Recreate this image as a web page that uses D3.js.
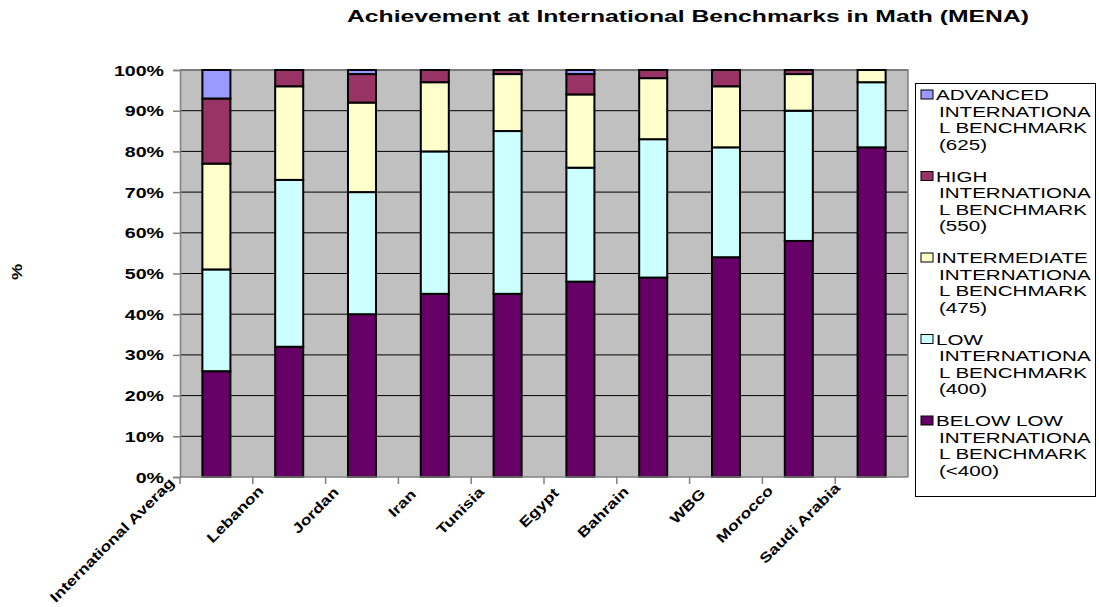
<!DOCTYPE html>
<html><head><meta charset="utf-8">
<script src="https://cdn.jsdelivr.net/npm/d3@7"></script>
<style>body{margin:0;background:#fff}svg{display:block}text{font-family:"Liberation Sans",Arial,sans-serif}</style>
</head><body><svg id="c" width="1099" height="607"></svg>
<script>
const categories = ["International Averag","Lebanon","Jordan","Iran","Tunisia","Egypt","Bahrain","WBG","Morocco","Saudi Arabia"];
const belowLow     = [26,32,40,45,45,48,49,54,58,81];
const low          = [25,41,30,35,40,28,34,27,32,16];
const intermediate = [26,23,22,17,14,18,15,15,9,3];
const high         = [16,4,7,3,1,5,2,4,1,0];
const advanced     = [7,0,1,0,0,1,0,0,0,0];
const legendLines = [
  ["BELOW LOW","INTERNATIONA","L BENCHMARK","(<400)"],
  ["LOW","INTERNATIONA","L BENCHMARK","(400)"],
  ["INTERMEDIATE","INTERNATIONA","L BENCHMARK","(475)"],
  ["HIGH","INTERNATIONA","L BENCHMARK","(550)"],
  ["ADVANCED","INTERNATIONA","L BENCHMARK","(625)"]
];
const yTicks = [0,10,20,30,40,50,60,70,80,90,100];
const titleText = "Achievement at International Benchmarks in Math (MENA)";

const colors = ["#660066","#ccffff","#ffffcc","#993366","#9999ff"];
const seriesVals = [belowLow, low, intermediate, high, advanced];
const keys = ["s0","s1","s2","s3","s4"];
const table = categories.map((c,i)=>{const o={cat:c}; keys.forEach((k,j)=>o[k]=seriesVals[j][i]); return o;});
const stacked = d3.stack().keys(keys)(table);

const svg = d3.select("#c");
const L=180, R=908, T=70, B=477;
const SX = 1.42;
const x = d3.scaleBand().domain(categories).range([L,R]).paddingInner(0.615).paddingOuter(0.3075);
const y = d3.scaleLinear().domain([0,100]).range([B,T]);

svg.append("rect").attr("x",L).attr("y",T).attr("width",R-L).attr("height",B-T).attr("fill","#c0c0c0");
svg.append("g").selectAll("line").data(yTicks.filter(t=>t>0)).join("line")
  .attr("x1",L).attr("x2",R).attr("y1",d=>y(d)).attr("y2",d=>y(d)).attr("stroke","#000").attr("stroke-width",1);
svg.append("path").attr("d",`M${L},${T}H${R}V${B}`).attr("fill","none").attr("stroke","#808080").attr("stroke-width",1.5);

svg.append("g").selectAll("g").data(stacked).join("g").attr("fill",(d,i)=>colors[i])
  .selectAll("rect").data(d=>d.filter(s=>s[1]-s[0]>0)).join("rect")
  .attr("x",d=>x(d.data.cat)).attr("width",x.bandwidth())
  .attr("y",d=>y(d[1])).attr("height",d=>y(d[0])-y(d[1]))
  .attr("stroke","#000").attr("stroke-width",2);

const ya = svg.append("g").attr("transform",`translate(${L},0)`)
  .call(d3.axisLeft(y).tickValues(yTicks).tickSize(7).tickPadding(4).tickFormat(d=>d+"%"));
ya.select(".domain").attr("stroke","#808080").attr("stroke-width",1.5);
ya.selectAll(".tick line").attr("stroke","#808080").attr("stroke-width",1.5);
ya.selectAll(".tick text").attr("font-size",14).attr("font-weight","bold").attr("fill","#000")
  .attr("x",0).attr("dy","0.36em")
  .attr("transform",`translate(-16,0) scale(1.4,1)`);

svg.append("line").attr("x1",L).attr("x2",R).attr("y1",B).attr("y2",B).attr("stroke","#808080").attr("stroke-width",1.5);
const step = x.step();
svg.append("g").selectAll("line").data(categories).join("line")
  .attr("x1",d=>x(d)-x.paddingOuter()*step).attr("x2",d=>x(d)-x.paddingOuter()*step)
  .attr("y1",B).attr("y2",B+7).attr("stroke","#808080").attr("stroke-width",1.5);

const LS = 1.26;
svg.append("g").selectAll("text").data(categories).join("text")
  .text(d=>d).attr("font-size",14).attr("font-weight","bold").attr("text-anchor","end").attr("fill","#000")
  .each(function(d){
    const len = this.getComputedTextLength()*LS;
    const edge = x(d)-x.paddingOuter()*step;
    const ex = edge + 24 - 0.17*len;
    const ey = 498 - 0.085*len;
    d3.select(this).attr("transform",`translate(${ex},${ey}) rotate(-45) scale(${LS},1)`);
  });

svg.append("text").text("%").attr("font-size",14).attr("font-weight","bold")
  .attr("transform","translate(22,272) rotate(-90) scale(1.3,1)").attr("text-anchor","middle");

const tt = svg.append("text").text(titleText).attr("font-size",16.5).attr("font-weight","bold").attr("fill","#000");
{ const w = tt.node().getComputedTextLength(); const target=682;
  tt.attr("transform",`translate(${347},${22}) scale(${target/w},1)`); }

const lg = svg.append("g");
lg.append("rect").attr("x",915.5).attr("y",83.5).attr("width",180).attr("height",413).attr("fill","#fff").attr("stroke","#000").attr("stroke-width",1);
const order = [4,3,2,1,0];
order.forEach((si,k)=>{
  const y0 = 95 + k*81.5;
  lg.append("rect").attr("x",921).attr("y",y0-5).attr("width",12).attr("height",9).attr("fill",colors[si]).attr("stroke","#000").attr("stroke-width",1);
  legendLines[si].forEach((ln,j)=>{
    lg.append("text").text(ln).attr("font-size",14.5).attr("fill","#000").attr("dy","0.36em")
      .attr("transform",`translate(${j===0?936:939},${y0+j*16.5}) scale(${SX},1)`);
  });
});
</script></body></html>
